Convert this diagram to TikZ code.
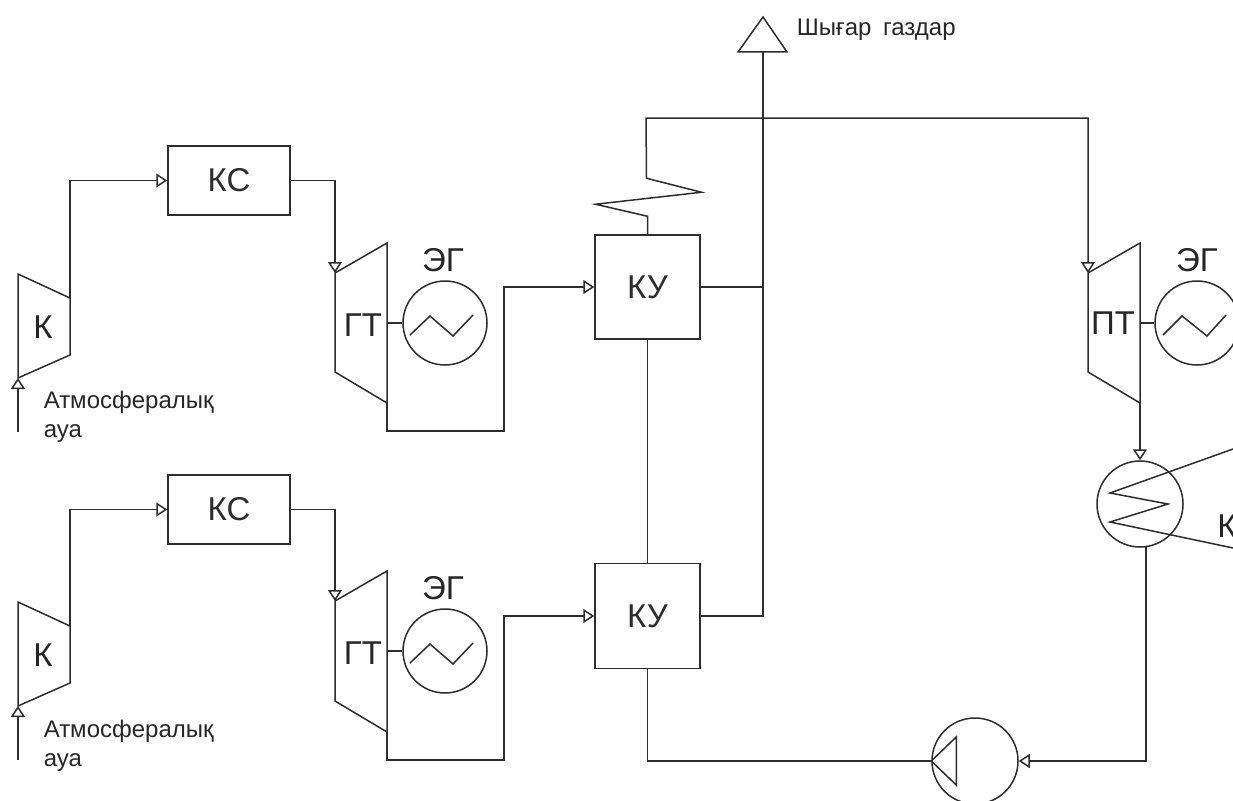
\documentclass[tikz,border=0pt]{standalone}
\usepackage{fontspec}
\setmainfont{Liberation Sans}
\usetikzlibrary{arrows.meta}
\definecolor{schemeline}{RGB}{45,45,45}
\tikzstyle{line} = [draw, -{Triangle[length=11pt, width=14pt, fill=white]}]
\tikzstyle{block} = [rectangle, draw, fill=white, font=\fontsize{33}{33}\selectfont, inner sep=0pt, node distance=329pt]
\tikzstyle{round} = [draw, circle, minimum size=84pt, inner sep=0pt, node distance=328pt]
\tikzstyle{sign} = [font=\fontsize{33}{33}\selectfont, text=black!85, inner sep=0pt, node distance=328pt]
\tikzstyle{note} = [font=\fontsize{24}{29}\selectfont, text=black!85, align=left, anchor=west, inner sep=0pt]

\begin{document}
\begin{tikzpicture}[x=1pt, y=-1pt, line width=1.5pt, color=schemeline, line join=miter]
		\useasboundingbox (0,0) rectangle (1233,800);
		
		\node[block, minimum width=122pt, minimum height=69pt] at (229,180.5) (KS_1) {КС};
		\node[block, minimum width=122pt, minimum height=69pt, below of=KS_1] (KS_2) {КС};
		\node[block, minimum width=105pt, minimum height=104pt] at (647.5,287) (KU_1) {КУ};
		\node[block, minimum width=105pt, minimum height=105pt, below of=KU_1] (KU_2) {КУ};
		
		\node[sign] at (43,327) (K_1) {К};
		\node[sign, below of=K_1] (K_2) {К};
		\node[sign] at (363,325) (GT_1) {ГТ};
		\node[sign, below of=GT_1] (GT_2) {ГТ};
		\node[sign] at (1113,323) (PT_1) {ПТ};
		\node[sign] at (443,260) (EG_label_1) {ЭГ};
		\node[sign, below of=EG_label_1] (EG_label_2) {ЭГ};
		\node[sign] at (1197,260) (EG_label_3) {ЭГ};
		\node[sign] at (1227,526) (KN_label) {К};
		
		\node[round] at (445,323) (EG_1) {};
		\node[round, below of=EG_1] (EG_2) {};
		\node[round] at (1197,323) (EG_3) {};
		\node[round, minimum size=86pt] at (1140,504) (KN) {};
		\node[round, minimum size=86pt] at (975,761) (PUMP) {};
		
		\coordinate (K_1_in) at (18,378);
		\coordinate (K_1_out) at (70,298);
		\coordinate (K_2_in) at (18,706);
		\coordinate (K_2_out) at (70,626);
		\coordinate (air_1) at (18,432);
		\coordinate (air_2) at (18,760);
		\coordinate (GT_1_in) at (335,273);
		\coordinate (GT_1_out) at (387,403);
		\coordinate (GT_1_bend) at (504,431);
		\coordinate (GT_2_in) at (335,601);
		\coordinate (GT_2_out) at (387,732);
		\coordinate (GT_2_bend) at (504,760);
		\coordinate (PT_1_in) at (1088,273);
		\coordinate (PT_1_out) at (1140,403);
		\coordinate (steam_top) at (646,118);
		\coordinate (stack_in) at (763,52);
		\coordinate (KN_top) at (1233,449);
		\coordinate (KN_bottom) at (1233,548);
		
		\draw (K_1_in) -- ++(0,-104) -- (K_1_out) -- ++(0,57) -- cycle;
		\draw (K_2_in) -- ++(0,-104) -- (K_2_out) -- ++(0,57) -- cycle;
		\draw (GT_1_in) -- ++(52,-30) -- (GT_1_out) -- ++(-52,-31) -- cycle;
		\draw (GT_2_in) -- ++(52,-30) -- (GT_2_out) -- ++(-52,-31) -- cycle;
		\draw (PT_1_in) -- ++(52,-30) -- (PT_1_out) -- ++(-52,-31) -- cycle;
		\draw (stack_in) -- ++(-25,0) -- ++(25,-35) -- ++(24,35) -- cycle;
		
		\path [line] (air_1) to (K_1_in);
		\path [line] (air_2) to (K_2_in);
		\path [line] (K_1_out) |- (KS_1.west);
		\path [line] (K_2_out) |- (KS_2.west);
		\path [line] (KS_1.east) -| (GT_1_in);
		\path [line] (KS_2.east) -| (GT_2_in);
		
		\draw (EG_1.west -| GT_1_out) -- (EG_1.west);
		\draw (EG_2.west -| GT_2_out) -- (EG_2.west);
		\draw (EG_3.west -| PT_1_out) -- (EG_3.west);
		
		\draw ([shift={(-35,12)}]EG_1.center) -- ++(20,-19) -- ++(23,20) -- ++(20,-21);
		\draw ([shift={(-35,12)}]EG_2.center) -- ++(20,-19) -- ++(23,20) -- ++(20,-21);
		\draw ([shift={(-34,12)}]EG_3.center) -- ++(19,-19) -- ++(25,20) -- ++(19,-21);
		
		\path [line] (GT_1_out) |- (GT_1_bend) |- (KU_1.west);
		\path [line] (GT_2_out) |- (GT_2_bend) |- (KU_2.west);
		
		\draw (KU_1.south) to (KU_2.north);
		\draw (KU_1.east) to (KU_1.east -| stack_in);
		\draw (KU_2.east) -| (stack_in);
		
		\path [line] (KU_1.north) -- ++(0,-18) -- ++(-52,-12) -- ++(106,-12) -- ++(-55,-14) -- (steam_top) -| (PT_1_in);
		\path [line] (PT_1_out) to (KN.north);
		
		\draw (KN_top) -- (1110,493) -- (1168,504) -- (1110,522) -- (KN_bottom);
		
		\path [line] (KN.278) |- (PUMP.east);
		\draw (PUMP.west) -| (KU_2.south);
		\draw (PUMP.west) -- ++(25,-24) -- ++(0,48) -- cycle;
		
		\node[note] at (796,30) (gas_txt) {Шығар\kern5pt{} газдар};
		\node[note] at (43,417) (air_txt_1) {Атмосфералық\\ауа};
		\node[note] at (43,746) (air_txt_2) {Атмосфералық\\ауа};
\end{tikzpicture}
\end{document}
